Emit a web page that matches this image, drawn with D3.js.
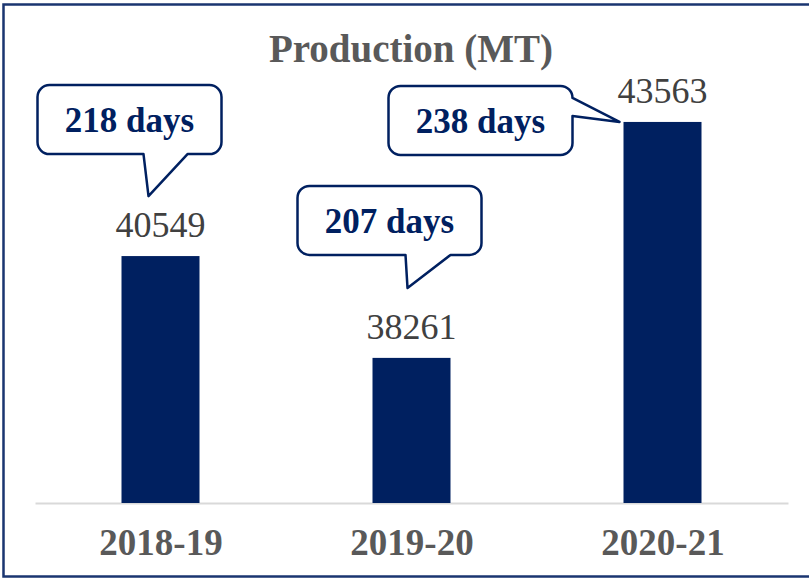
<!DOCTYPE html>
<html>
<head>
<meta charset="utf-8">
<script src="https://cdn.jsdelivr.net/npm/d3@7"></script>
<style>
  html, body { margin: 0; padding: 0; background: #fff; }
  svg { display: block; }
</style>
</head>
<body>
<svg id="chart" width="809" height="579"></svg>
<script>
const years = ["2018-19", "2019-20", "2020-21"];
const production = [40549, 38261, 43563];
const daysLabels = ["218 days", "207 days", "238 days"];

const width = 809, height = 579;
const navy = "#002060";
const serif = "'Liberation Serif', 'Times New Roman', serif";

const svg = d3.select("#chart");

// outer frame (right edge runs off the picture)
svg.append("rect")
  .attr("x", 3.5).attr("y", 4.5)
  .attr("width", 820).attr("height", 572)
  .attr("fill", "#fff")
  .attr("stroke", "#1a3570")
  .attr("stroke-width", 2.5);

svg.append("text")
  .attr("x", 411).attr("y", 62)
  .attr("text-anchor", "middle")
  .attr("font-family", serif)
  .attr("font-weight", "bold")
  .attr("font-size", 39)
  .attr("fill", "#595959")
  .text("Production (MT)");

const x = d3.scalePoint()
  .domain(years)
  .range([35, 788])
  .padding(0.5);

const y = d3.scaleLinear()
  .domain([35000, 45000])
  .range([503, 58]);

const barW = 78;

const xAxis = svg.append("g")
  .attr("transform", `translate(0, ${y(35000)})`)
  .call(d3.axisBottom(x).tickSize(0).tickSizeOuter(0));

xAxis.select(".domain")
  .attr("stroke", "#d9d9d9")
  .attr("stroke-width", 2);

xAxis.selectAll("text")
  .attr("y", 52).attr("dy", 0)
  .attr("font-family", serif)
  .attr("font-weight", "bold")
  .attr("font-size", 37)
  .attr("fill", "#595959");

svg.append("g")
  .selectAll("rect")
  .data(production)
  .join("rect")
  .attr("x", (d, i) => x(years[i]) - barW / 2)
  .attr("y", d => y(d))
  .attr("width", barW)
  .attr("height", d => y(35000) - y(d))
  .attr("fill", navy);

svg.append("g")
  .selectAll("text")
  .data(production)
  .join("text")
  .attr("x", (d, i) => x(years[i]))
  .attr("y", d => y(d) - 19)
  .attr("text-anchor", "middle")
  .attr("font-family", serif)
  .attr("font-size", 36)
  .attr("fill", "#404040")
  .text(d => d);

// callout placement relative to each bar (centre, top)
const calloutLayout = [
  { dx: -123, dy: -171, tail: "bottom", b0: 106, b1: 150, tx: 111, ty: 111 },
  { dx: -114, dy: -172, tail: "bottom", b0: 108, b1: 153, tx: 110, ty: 102 },
  { dx: -274, dy: -36, tail: "right", b0: 12, b1: 30, tx: 231, ty: 36 }
];
const boxW = 184, boxH = 69, r = 12;

function calloutPath(bx, by, c) {
  const p = d3.path();
  p.moveTo(bx + r, by);
  p.lineTo(bx + boxW - r, by);
  p.arcTo(bx + boxW, by, bx + boxW, by + r, r);
  if (c.tail === "right") {
    p.lineTo(bx + c.tx, by + c.ty);
    p.lineTo(bx + boxW, by + c.b1);
  }
  p.lineTo(bx + boxW, by + boxH - r);
  p.arcTo(bx + boxW, by + boxH, bx + boxW - r, by + boxH, r);
  if (c.tail === "bottom") {
    p.lineTo(bx + c.b1, by + boxH);
    p.lineTo(bx + c.tx, by + c.ty);
    p.lineTo(bx + c.b0, by + boxH);
  }
  p.lineTo(bx + r, by + boxH);
  p.arcTo(bx, by + boxH, bx, by + boxH - r, r);
  p.lineTo(bx, by + r);
  p.arcTo(bx, by, bx + r, by, r);
  p.closePath();
  return p.toString();
}

const callouts = svg.append("g")
  .selectAll("g")
  .data(daysLabels)
  .join("g")
  .attr("transform", (d, i) => {
    const c = calloutLayout[i];
    return `translate(${x(years[i]) + c.dx}, ${y(production[i]) + c.dy})`;
  });

callouts.append("path")
  .attr("d", (d, i) => calloutPath(0, 0, calloutLayout[i]))
  .attr("fill", "#fff")
  .attr("stroke", navy)
  .attr("stroke-width", 2.5)
  .attr("stroke-linejoin", "round");

callouts.append("text")
  .attr("x", boxW / 2)
  .attr("y", 47)
  .attr("text-anchor", "middle")
  .attr("font-family", serif)
  .attr("font-weight", "bold")
  .attr("font-size", 35)
  .attr("fill", navy)
  .text(d => d);
</script>
</body>
</html>
